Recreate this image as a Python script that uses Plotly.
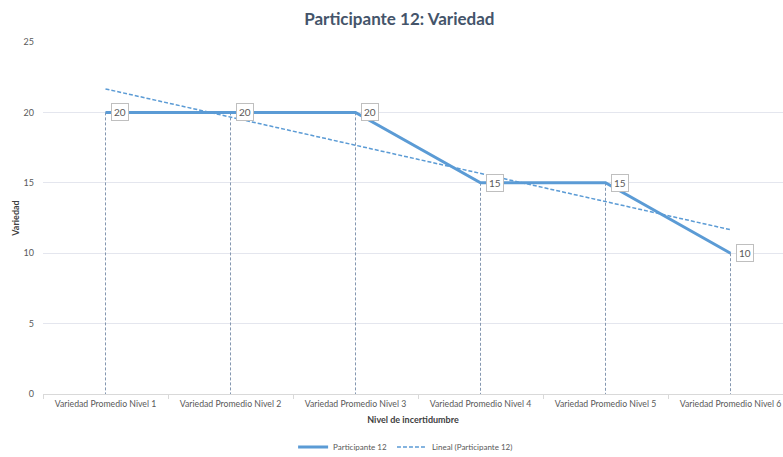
import numpy as np
import plotly.graph_objects as go

categorias = [f"Variedad Promedio Nivel {i}" for i in range(1, 7)]
valores = [20, 20, 20, 15, 15, 10]
serie = "Participante 12"

azul = "#5B9BD5"
gris_texto = "#595959"
font = "Lato"

# línea de tendencia lineal (como en Excel)
xs = np.arange(1, len(valores) + 1)
pend, inter = np.polyfit(xs, valores, 1)
tendencia = pend * xs + inter

# líneas de unión hasta el eje
drop_x, drop_y = [], []
for c, v in zip(categorias, valores):
    drop_x += [c, c, None]
    drop_y += [v, 0, None]

fig = go.Figure()
fig.add_trace(go.Scatter(
    x=drop_x, y=drop_y, mode="lines", showlegend=False, hoverinfo="skip",
    line=dict(color="#8497B0", width=1, dash="3px,2px"),
))
fig.add_trace(go.Scatter(
    x=categorias, y=valores, mode="lines", name=serie,
    line=dict(color=azul, width=3),
))
fig.add_trace(go.Scatter(
    x=categorias, y=tendencia, mode="lines", name=f"Lineal ({serie})",
    line=dict(color=azul, width=1.5, dash="4px,2px"),
))

# etiquetas de datos tipo globo
for c, v in zip(categorias, valores):
    fig.add_annotation(
        x=c, y=v, text=str(v), showarrow=False, xanchor="left", yanchor="middle",
        xshift=5, font=dict(family=font, size=10, color=gris_texto),
        bgcolor="white", bordercolor="#BFBFBF", borderwidth=1, borderpad=2,
    )

fig.update_layout(
    width=783, height=457,
    margin=dict(l=43, r=0, t=42, b=63),
    paper_bgcolor="white", plot_bgcolor="white",
    font=dict(family=font, size=9, color=gris_texto),
    title=dict(
        text="<b>Participante 12: Variedad</b>", x=0.51, xanchor="center",
        y=0.958, yanchor="middle",
        font=dict(family=font, size=17, color="#44546A"),
    ),
    showlegend=True,
    legend=dict(
        orientation="h", x=0.49, xanchor="center",
        yref="container", y=0.022, yanchor="middle",
        font=dict(family=font, size=8, color=gris_texto), itemwidth=30,
    ),
)
fig.update_xaxes(
    type="category", range=[-0.5, 5.42], automargin=False,
    showgrid=False, showline=True, linecolor="#D9D9D9", linewidth=1,
    ticks="outside", tickson="boundaries", ticklen=4, tickcolor="#D9D9D9",
    ticklabelstandoff=2,
    tickfont=dict(family=font, size=8.7, color=gris_texto),
    title=dict(text="<b>Nivel de incertidumbre</b>", standoff=8,
               font=dict(family=font, size=9, color="#404040")),
)
fig.update_yaxes(
    range=[0, 25], dtick=5, showgrid=True, gridcolor="#E4E6EE", gridwidth=1,
    zeroline=False, showline=False, ticks="", ticklabelstandoff=8,
    automargin=False,
    tickfont=dict(family=font, size=9, color=gris_texto),
    title=dict(text="<b>Variedad</b>", standoff=2,
               font=dict(family=font, size=9, color="#404040")),
)

# quitar el margen por defecto del <body>
fig.write_html(
    "out.html",
    config={"displayModeBar": False},
    post_script="document.body.style.margin='0';",
)
